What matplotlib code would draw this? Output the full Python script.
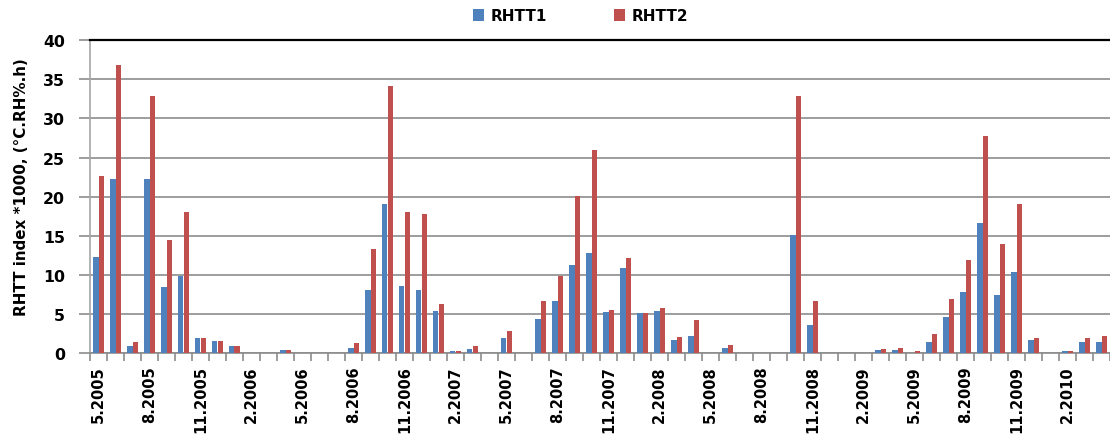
import matplotlib.pyplot as plt
import numpy as np

# monthly values, 5.2005 .. 4.2010
months = [f"{(4 + i) % 12 + 1}.{2005 + (4 + i) // 12}" for i in range(60)]

rhtt1 = [12.3, 22.3, 0.85, 22.3, 8.4, 9.9, 1.9, 1.55, 0.85, 0, 0, 0.4,
         0, 0, 0, 0.7, 8.1, 19.0, 8.6, 8.1, 5.4, 0.2, 0.5, 0,
         1.9, 0, 4.4, 6.6, 11.3, 12.75, 5.2, 10.9, 5.1, 5.4, 1.7, 2.2,
         0, 0.7, 0, 0, 0, 15.1, 3.6, 0, 0, 0, 0.4, 0.4,
         0.05, 1.35, 4.55, 7.75, 16.6, 7.4, 10.4, 1.7, 0, 0.2, 1.35, 1.37]
rhtt2 = [22.6, 36.9, 1.4, 32.9, 14.5, 18.1, 1.9, 1.55, 0.85, 0, 0, 0.4,
         0, 0, 0, 1.25, 13.3, 34.2, 18.1, 17.8, 6.3, 0.2, 0.85, 0,
         2.8, 0, 6.7, 9.9, 20.1, 26.0, 5.5, 12.1, 5.1, 5.7, 2.05, 4.2,
         0, 1.0, 0, 0, 0, 32.9, 6.6, 0, 0, 0, 0.55, 0.7,
         0.25, 2.4, 6.9, 11.9, 27.8, 13.9, 19.1, 1.9, 0, 0.2, 1.9, 2.2]

x = np.arange(len(months))
w = 0.31

fig = plt.figure(figsize=(11.1, 4.39), dpi=100)
ax = fig.add_axes([90 / 1110, 85 / 439, 1 - 90 / 1110, (354 - 41.3) / 439])

ax.bar(x - w / 2, rhtt1, w, color='#4F81BD', label='RHTT1', zorder=3)
ax.bar(x + w / 2, rhtt2, w, color='#C0504D', label='RHTT2', zorder=3)

ax.set_xlim(-0.5, 59.05)
ax.set_ylim(0, 40)
ax.set_yticks(range(0, 41, 5))
ax.yaxis.grid(True, color='#8c8c8c', linewidth=1.2, zorder=0)
ax.axhline(40, color='black', linewidth=1.6, zorder=4, clip_on=False)

ax.set_xticks(x[::3])
ax.set_xticklabels(months[::3], rotation=90, fontsize=10.5, fontweight='bold')
ax.set_xticks(np.arange(-0.5, 60, 1), minor=True)
ax.tick_params(axis='x', which='major', length=0, pad=9)
ax.tick_params(axis='x', which='minor', length=6, color='#8c8c8c', width=1.2)
ax.tick_params(axis='y', length=8, color='#8c8c8c', width=1.2, labelsize=11.3, pad=10)
for lab in ax.get_yticklabels():
    lab.set_fontweight('bold')

for s in ['top', 'right']:
    ax.spines[s].set_visible(False)
ax.spines['left'].set_color('#a6a6a6')
ax.spines['left'].set_linewidth(1.2)
ax.spines['bottom'].set_color('#8c8c8c')
ax.spines['bottom'].set_linewidth(1.2)

ax.set_ylabel('RHTT index *1000, (°C.RH%.h)', fontsize=10.9, fontweight='bold')
ax.yaxis.set_label_coords(-61 / 1020, 0.5 + (197 - 186) / 312.7)

fig.legend(loc='upper center', bbox_to_anchor=(0.523, 1.01), ncol=2, frameon=False,
           prop={'weight': 'bold', 'size': 11}, handlelength=0.75, handleheight=0.75,
           columnspacing=4.4, handletextpad=0.4)

fig.savefig('out.png', dpi=100)
